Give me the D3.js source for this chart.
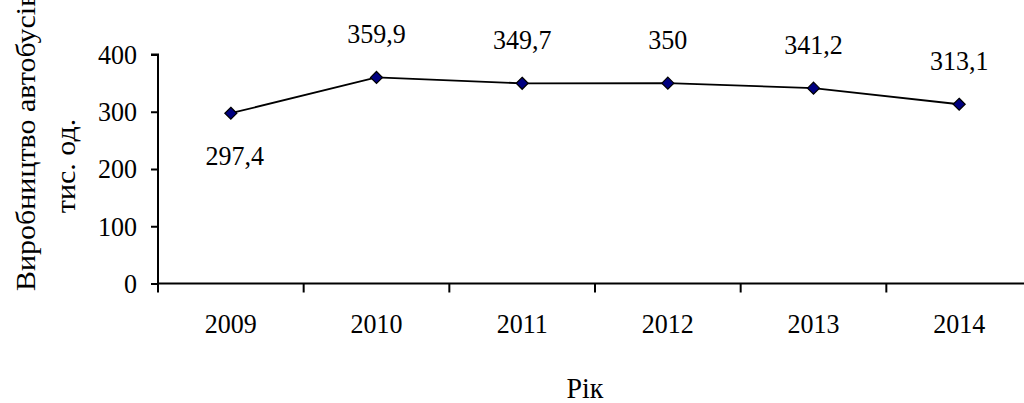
<!DOCTYPE html>
<html>
<head>
<meta charset="utf-8">
<script src="https://cdn.jsdelivr.net/npm/d3@7"></script>
</head>
<body style="margin:0;background:#fff">
<svg id="chart" width="1024" height="403" style="display:block"></svg>
<script>
// Виробництво автобусів, тис. од.
const years = ["2009", "2010", "2011", "2012", "2013", "2014"];
const output = [297.4, 359.9, 349.7, 350, 341.2, 313.1];
const valueLabels = ["297,4", "359,9", "349,7", "350", "341,2", "313,1"];
const yTicks = [0, 100, 200, 300, 400];

const data = years.map((y, i) => ({ year: y, value: output[i], label: valueLabels[i] }));

const FONT = '"Liberation Serif", "Tinos", "Times New Roman", "DejaVu Serif"';
const LABEL_SIZE = 28;   // tick and value labels
const TITLE_SIZE = 30;   // axis titles
const SQUEEZE = 0.93;    // slightly condensed glyphs

const svg = d3.select("#chart");
const plotLeft = 158, plotRight = 1032, plotTop = 54.5, plotBottom = 283.5;

const x = d3.scaleBand().domain(years).range([plotLeft, plotRight]).padding(0);
const y = d3.scaleLinear().domain([0, 400]).range([plotBottom, plotTop]);

function styled(sel, size) {
  return sel.style("font-family", FONT).attr("font-size", size).attr("fill", "#000");
}

// Category axis: ticks on band boundaries, labels at band centres
const xAxis = svg.append("g");
xAxis.append("line")
  .attr("x1", plotLeft).attr("x2", plotRight)
  .attr("y1", plotBottom).attr("y2", plotBottom)
  .attr("stroke", "#000").attr("stroke-width", 2);
xAxis.selectAll("line.tick")
  .data(years.map(d => x(d)).concat([plotRight]))
  .join("line")
  .attr("class", "tick")
  .attr("x1", d => d).attr("x2", d => d)
  .attr("y1", plotBottom).attr("y2", plotBottom + 9)
  .attr("stroke", "#000").attr("stroke-width", 2);
xAxis.selectAll("text")
  .data(years)
  .join("text")
  .attr("transform", d => `translate(${x(d) + x.bandwidth() / 2},${plotBottom + 49}) scale(${SQUEEZE},1)`)
  .attr("text-anchor", "middle")
  .call(styled, LABEL_SIZE)
  .text(d => d);

// Value axis
const yAxis = svg.append("g")
  .attr("transform", `translate(${plotLeft},0)`)
  .call(d3.axisLeft(y).tickValues(yTicks).tickSize(7).tickPadding(14).tickFormat(d3.format("d")));
yAxis.attr("font-family", null).attr("font-size", null);
yAxis.select(".domain").attr("stroke", "#000").attr("stroke-width", 2).attr("d", `M-7,${plotTop}H0V${plotBottom}`);
yAxis.selectAll(".tick line").attr("stroke", "#000").attr("stroke-width", 2);
yAxis.selectAll(".tick text")
  .attr("x", -21 / SQUEEZE)
  .attr("transform", `scale(${SQUEEZE},1)`)
  .call(styled, LABEL_SIZE);

// Series line
const cx = d => x(d.year) + x.bandwidth() / 2;
svg.append("path")
  .datum(data)
  .attr("fill", "none")
  .attr("stroke", "#000")
  .attr("stroke-width", 1.8)
  .attr("d", d3.line().x(cx).y(d => y(d.value)));

// Diamond markers
svg.selectAll("path.marker")
  .data(data)
  .join("path")
  .attr("class", "marker")
  .attr("transform", d => `translate(${cx(d)},${y(d.value)})`)
  .attr("d", "M0,-6L6,0L0,6L-6,0Z")
  .attr("fill", "#000080")
  .attr("stroke", "#000")
  .attr("stroke-width", 1.2);

// Data labels: the first sits below its point, the rest above
svg.selectAll("text.value")
  .data(data)
  .join("text")
  .attr("class", "value")
  .attr("transform", (d, i) =>
    `translate(${cx(d) + (i === 0 ? 4 : 0)},${y(d.value) + (i === 0 ? 52 : -34)}) scale(${SQUEEZE},1)`)
  .attr("text-anchor", "middle")
  .call(styled, LABEL_SIZE)
  .text(d => d.label);

// Axis titles
svg.append("text")
  .attr("transform", `translate(35,291) scale(${SQUEEZE},1) rotate(-90)`)
  .attr("text-anchor", "start")
  .call(styled, TITLE_SIZE)
  .text("Виробництво автобусів,");
svg.append("text")
  .attr("transform", `translate(75,166) scale(${SQUEEZE},1) rotate(-90)`)
  .attr("text-anchor", "middle")
  .call(styled, TITLE_SIZE)
  .text("тис. од.");
svg.append("text")
  .attr("transform", `translate(585,398) scale(${SQUEEZE},1)`)
  .attr("text-anchor", "middle")
  .call(styled, TITLE_SIZE)
  .text("Рік");
</script>
</body>
</html>
